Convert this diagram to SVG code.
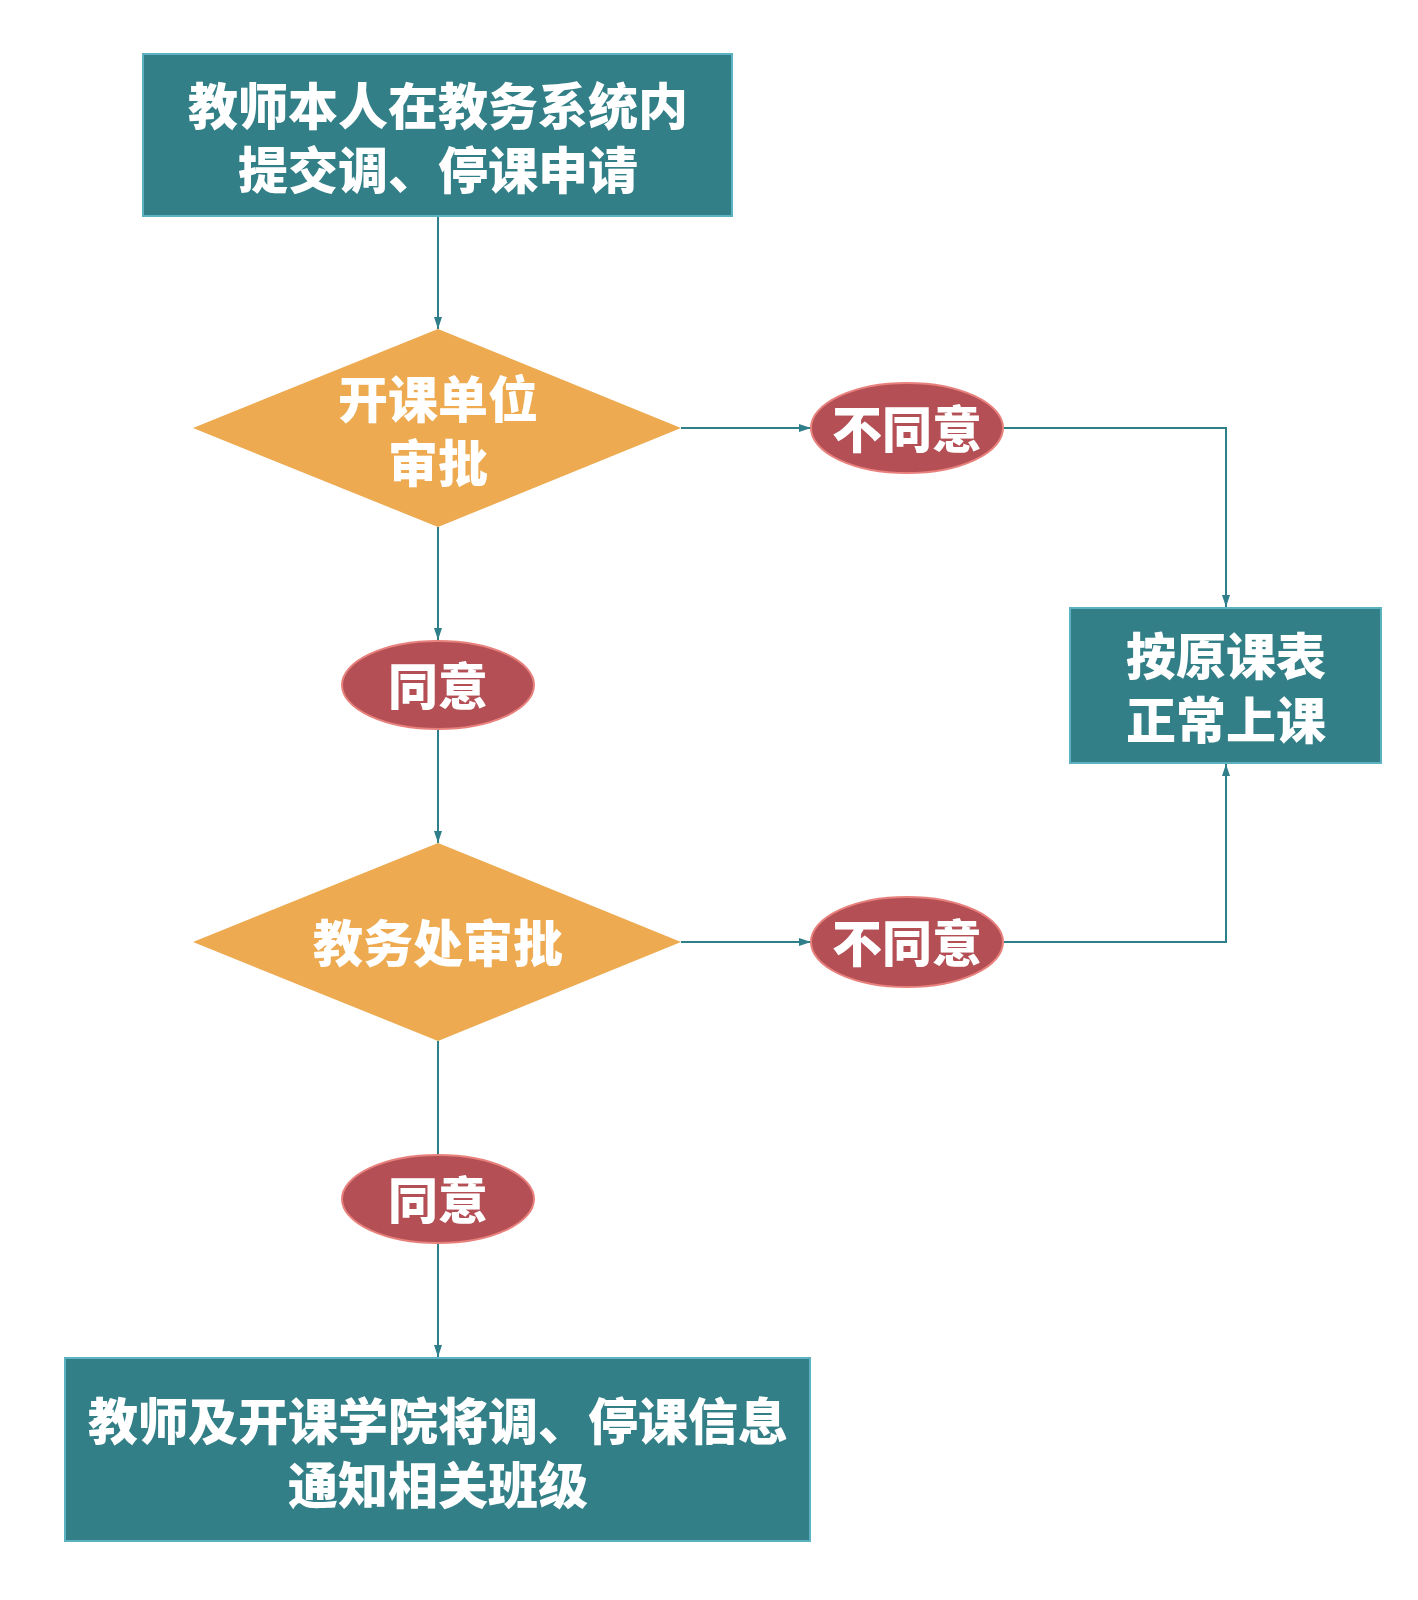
<svg xmlns="http://www.w3.org/2000/svg" width="1418" height="1600" viewBox="0 0 1418 1600">
<style>
.box{fill:#327F87;stroke:#5BB3C2;stroke-width:2}
.dia{fill:#EDAA50}
.ell{fill:#B44F56;stroke:#E8807C;stroke-width:2}
.t{fill:#FFFFFF;font-family:"Noto Sans CJK SC","Noto Sans",sans-serif;font-weight:900;font-size:50px;text-anchor:middle;dominant-baseline:central}
.c{fill:none;stroke:#2F7F8A;stroke-width:2}
</style>
<defs>
<marker id="ah" markerUnits="userSpaceOnUse" markerWidth="14" markerHeight="10" refX="12" refY="5" orient="auto">
<path d="M0,1 L12,5 L0,9 z" fill="#2F7F8A"/>
</marker>
</defs>
<rect width="1418" height="1600" fill="#FFFFFF"/>
<g id="connectors">
<path class="c" d="M438,216 V329" marker-end="url(#ah)"/>
<path class="c" d="M681,428 H811" marker-end="url(#ah)"/>
<path class="c" d="M1003,428 H1226 V607" marker-end="url(#ah)"/>
<path class="c" d="M438,527 V640" marker-end="url(#ah)"/>
<path class="c" d="M438,729 V843" marker-end="url(#ah)"/>
<path class="c" d="M681,942 H811" marker-end="url(#ah)"/>
<path class="c" d="M1003,942 H1226 V764" marker-end="url(#ah)"/>
<path class="c" d="M438,1041 V1155"/>
<path class="c" d="M438,1243 V1357" marker-end="url(#ah)"/>
</g>
<g id="n1">
<rect class="box" x="143" y="54" width="589" height="162"/>
<text class="t" x="438" y="103">教师本人在教务系统内</text>
<text class="t" x="438" y="167">提交调、停课申请</text>
</g>
<g id="n2">
<polygon class="dia" points="438,329 681,428 438,527 193,428"/>
<text class="t" x="438" y="396">开课单位</text>
<text class="t" x="438" y="460">审批</text>
</g>
<g id="n3">
<ellipse class="ell" cx="907" cy="428" rx="96" ry="45"/>
<text class="t" x="907" y="426">不同意</text>
</g>
<g id="n4">
<rect class="box" x="1070" y="608" width="311" height="155"/>
<text class="t" x="1226" y="653">按原课表</text>
<text class="t" x="1226" y="717">正常上课</text>
</g>
<g id="n5">
<ellipse class="ell" cx="438" cy="685" rx="96" ry="44"/>
<text class="t" x="438" y="683">同意</text>
</g>
<g id="n6">
<polygon class="dia" points="438,843 681,942 438,1041 193,942"/>
<text class="t" x="438" y="940">教务处审批</text>
</g>
<g id="n7">
<ellipse class="ell" cx="907" cy="942" rx="96" ry="45"/>
<text class="t" x="907" y="940">不同意</text>
</g>
<g id="n8">
<ellipse class="ell" cx="438" cy="1199" rx="96" ry="44"/>
<text class="t" x="438" y="1197">同意</text>
</g>
<g id="n9">
<rect class="box" x="65" y="1358" width="745" height="183"/>
<text class="t" x="438" y="1418">教师及开课学院将调、停课信息</text>
<text class="t" x="438" y="1482">通知相关班级</text>
</g>
</svg>
